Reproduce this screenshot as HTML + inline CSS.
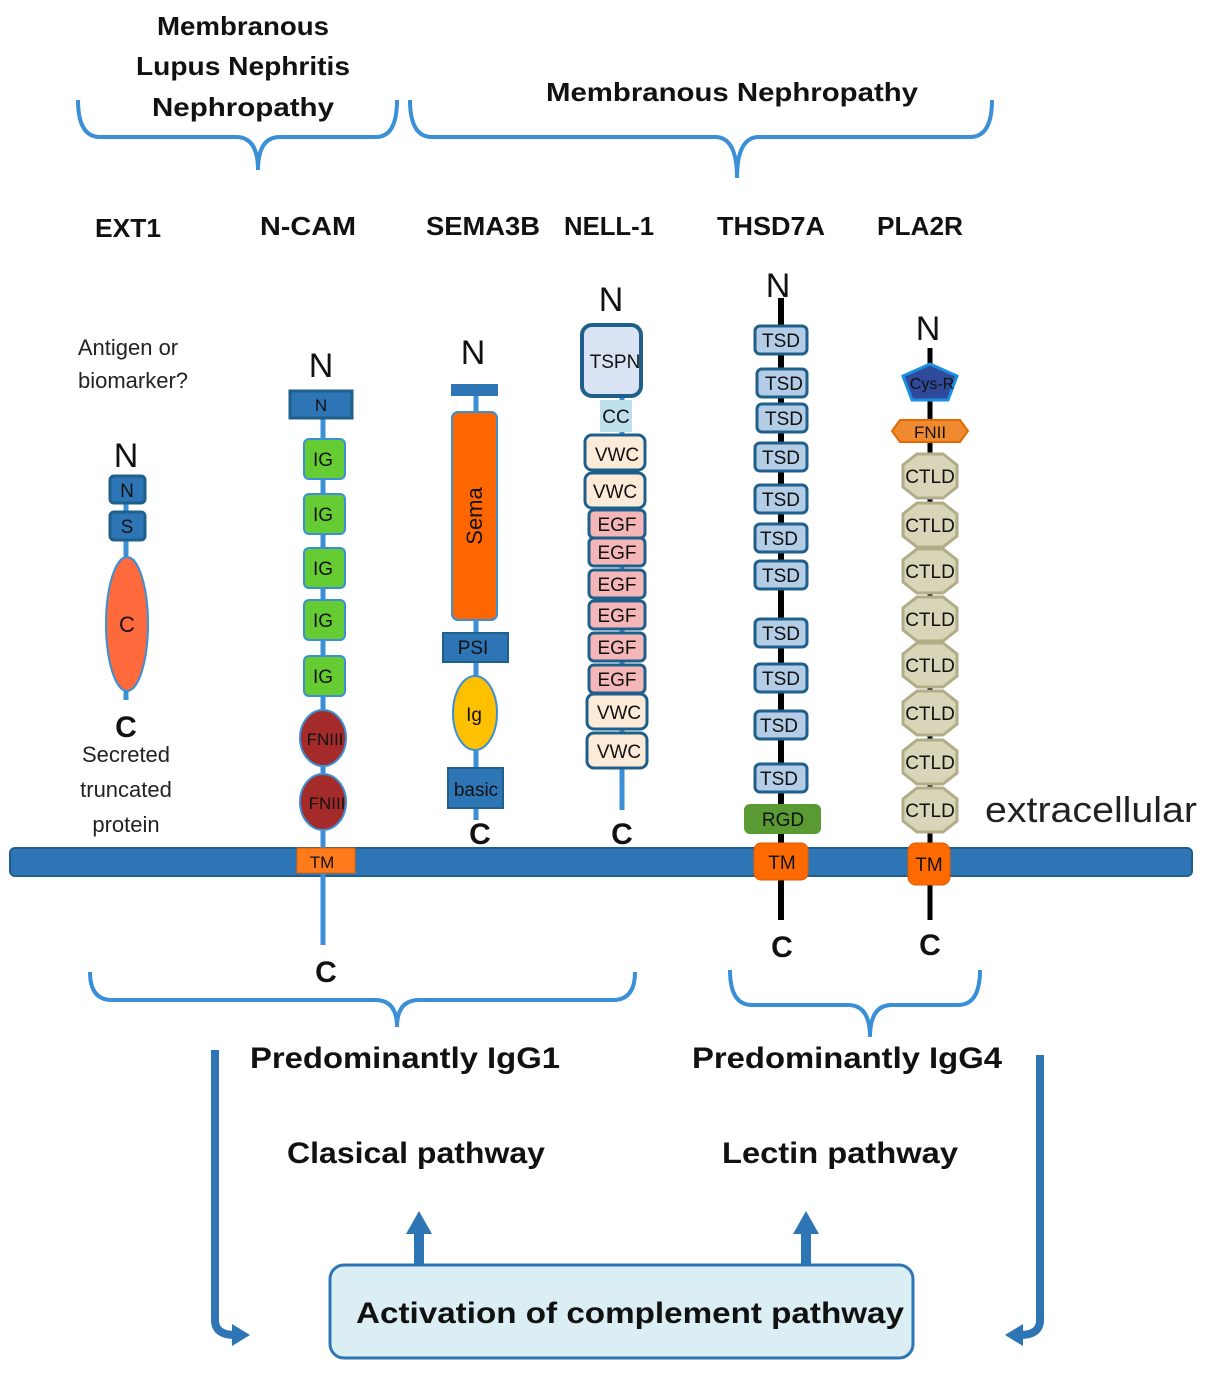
<!DOCTYPE html>
<html><head><meta charset="utf-8"><style>html,body{margin:0;padding:0;background:#fff}svg{display:block}text{font-family:"Liberation Sans",sans-serif}</style></head>
<body>
<svg width="1206" height="1373" viewBox="0 0 1206 1373" xmlns="http://www.w3.org/2000/svg">
<defs>
<marker id="ah" markerWidth="6" markerHeight="6" refX="3" refY="3" orient="auto"><path d="M0,0L6,3L0,6z" fill="#2e75b6"/></marker>
</defs>
<g fill="none" stroke="#3a8fd6" stroke-width="4">
<path d="M78,100 Q78,137 100,137 L236,137 Q258,137 258,170 Q258,137 280,137 L376,137 Q397,137 397,100"/>
<path d="M410,100 Q410,137 432,137 L715,137 Q737,137 737,178 Q737,137 759,137 L970,137 Q992,137 992,100"/>
<path d="M90,972 Q90,1000 112,1000 L375,1000 Q397,1000 397,1027 Q397,1000 419,1000 L613,1000 Q635,1000 635,972"/>
<path d="M730,970 Q730,1005 752,1005 L848,1005 Q870,1005 870,1037 Q870,1005 892,1005 L958,1005 Q980,1005 980,970"/>
</g>
<g font-weight="bold" font-size="26" text-anchor="middle" fill="#111">
<text x="243" y="35" textLength="172" lengthAdjust="spacingAndGlyphs">Membranous</text>
<text x="243" y="75" textLength="214" lengthAdjust="spacingAndGlyphs">Lupus Nephritis</text>
<text x="243" y="116" textLength="182" lengthAdjust="spacingAndGlyphs">Nephropathy</text>
<text x="732" y="101" textLength="372" lengthAdjust="spacingAndGlyphs">Membranous Nephropathy</text>
<text x="128" y="237" textLength="66" lengthAdjust="spacingAndGlyphs">EXT1</text>
<text x="308" y="235" textLength="96" lengthAdjust="spacingAndGlyphs">N-CAM</text>
<text x="483" y="235" textLength="114" lengthAdjust="spacingAndGlyphs">SEMA3B</text>
<text x="609" y="235" textLength="90" lengthAdjust="spacingAndGlyphs">NELL-1</text>
<text x="771" y="235" textLength="108" lengthAdjust="spacingAndGlyphs">THSD7A</text>
<text x="920" y="235" textLength="86" lengthAdjust="spacingAndGlyphs">PLA2R</text>
</g>
<!-- membrane -->
<rect x="10" y="848" width="1182" height="28" rx="5" fill="#2e75b6" stroke="#1f5f8b" stroke-width="2"/>
<text x="985" y="822" font-size="36" fill="#222" textLength="212" lengthAdjust="spacingAndGlyphs">extracellular</text>
<!-- EXT1 -->
<g text-anchor="middle" fill="#222" font-size="22">
<text x="128" y="355">Antigen or</text><text x="133" y="388">biomarker?</text>
<text x="126" y="762">Secreted</text><text x="126" y="797">truncated</text><text x="126" y="832">protein</text>
</g>
<line x1="126" y1="503" x2="126" y2="700" stroke="#3a8fd6" stroke-width="5"/>
<rect x="110" y="476" width="35" height="27" rx="4" fill="#2e75b6" stroke="#1f5f8b" stroke-width="3"/>
<rect x="110" y="512" width="35" height="28" rx="4" fill="#2e75b6" stroke="#1f5f8b" stroke-width="3"/>
<ellipse cx="127" cy="624" rx="21" ry="67" fill="#ff6a3d" stroke="#3a8fd6" stroke-width="2"/>
<!-- N-CAM -->
<line x1="323" y1="390" x2="323" y2="945" stroke="#3a8fd6" stroke-width="5"/>
<rect x="290" y="391" width="62" height="27" fill="#2e75b6" stroke="#1f5f8b" stroke-width="3"/>
<g fill="#66cc33" stroke="#3a8fd6" stroke-width="2">
<rect x="304" y="439" width="41" height="40" rx="5"/><rect x="304" y="494" width="41" height="40" rx="5"/><rect x="304" y="548" width="41" height="40" rx="5"/><rect x="304" y="600" width="41" height="40" rx="5"/><rect x="304" y="656" width="41" height="40" rx="5"/>
</g>
<ellipse cx="323" cy="738" rx="23" ry="28" fill="#a52a2a" stroke="#3a8fd6" stroke-width="2"/>
<ellipse cx="323" cy="802" rx="23" ry="28" fill="#a52a2a" stroke="#3a8fd6" stroke-width="2"/>
<rect x="297" y="848" width="58" height="25" fill="#ff7a1a" stroke="#e06000" stroke-width="1"/>
<!-- SEMA3B -->
<line x1="476" y1="385" x2="476" y2="820" stroke="#3a8fd6" stroke-width="5"/>
<rect x="451" y="384" width="47" height="12" fill="#2e75b6"/>
<rect x="452" y="412" width="45" height="208" rx="6" fill="#ff6600" stroke="#3a8fd6" stroke-width="2"/>
<rect x="443" y="633" width="65" height="29" fill="#2e75b6" stroke="#1f5f8b" stroke-width="2"/>
<ellipse cx="475" cy="713" rx="22" ry="37" fill="#ffc000" stroke="#3a8fd6" stroke-width="2"/>
<rect x="448" y="768" width="55" height="40" fill="#2e75b6" stroke="#1f5f8b" stroke-width="2"/>
<!-- NELL-1 -->
<line x1="622" y1="395" x2="622" y2="810" stroke="#3a8fd6" stroke-width="5"/>
<rect x="582" y="325" width="59" height="71" rx="10" fill="#dae3f3" stroke="#1f5f8b" stroke-width="4"/>
<rect x="600" y="400" width="32" height="32" fill="#bde0ec"/>
<g stroke="#1f5f8b" stroke-width="3">
<rect x="585" y="435" width="60" height="35" rx="7" fill="#fdebd9"/><rect x="585" y="473" width="60" height="35" rx="7" fill="#fdebd9"/>
<g fill="#f4b6b6"><rect x="589" y="510" width="56" height="28" rx="5"/><rect x="589" y="538" width="56" height="28" rx="5"/><rect x="589" y="570" width="56" height="28" rx="5"/><rect x="589" y="601" width="56" height="28" rx="5"/><rect x="589" y="633" width="56" height="28" rx="5"/><rect x="589" y="665" width="56" height="28" rx="5"/></g>
<rect x="587" y="694" width="60" height="35" rx="7" fill="#fdebd9"/><rect x="587" y="733" width="60" height="35" rx="7" fill="#fdebd9"/>
</g>
<!-- THSD7A -->
<line x1="781" y1="298" x2="781" y2="920" stroke="#000" stroke-width="6"/>
<g fill="#b4cde6" stroke="#1f5f8b" stroke-width="3">
<rect x="755" y="326" width="52" height="28" rx="5"/><rect x="757" y="369" width="50" height="28" rx="5"/><rect x="757" y="404" width="50" height="28" rx="5"/><rect x="755" y="443" width="52" height="28" rx="5"/><rect x="755" y="485" width="52" height="28" rx="5"/><rect x="755" y="524" width="52" height="28" rx="5"/><rect x="755" y="561" width="52" height="28" rx="5"/><rect x="755" y="619" width="52" height="28" rx="5"/><rect x="755" y="664" width="52" height="28" rx="5"/><rect x="755" y="711" width="52" height="28" rx="5"/><rect x="755" y="764" width="52" height="28" rx="5"/>
</g>
<rect x="744" y="804" width="77" height="30" rx="6" fill="#5a9a32"/>
<rect x="754" y="843" width="54" height="37" rx="7" fill="#ff6a00" stroke="#e05a00"/>
<!-- PLA2R -->
<line x1="930" y1="348" x2="930" y2="920" stroke="#000" stroke-width="5"/>
<path d="M930,364 L957,376 L948,400 L912,400 L903,376 Z" fill="#2f4a9a" stroke="#1a8fe0" stroke-width="3"/>
<path d="M900,420 L960,420 L968,431 L960,442 L900,442 L892,431 Z" fill="#f08a30" stroke="#e06a00" stroke-width="2"/>
<g fill="#d8d5b8" stroke="#b0ad88" stroke-width="3">
<path d="M917,454 L943,454 L957,465 L957,487 L943,498 L917,498 L903,487 L903,465Z"/>
<path d="M917,503 L943,503 L957,514 L957,536 L943,547 L917,547 L903,536 L903,514Z"/>
<path d="M917,549 L943,549 L957,560 L957,582 L943,593 L917,593 L903,582 L903,560Z"/>
<path d="M917,597 L943,597 L957,608 L957,630 L943,641 L917,641 L903,630 L903,608Z"/>
<path d="M917,643 L943,643 L957,654 L957,676 L943,687 L917,687 L903,676 L903,654Z"/>
<path d="M917,691 L943,691 L957,702 L957,724 L943,735 L917,735 L903,724 L903,702Z"/>
<path d="M917,740 L943,740 L957,751 L957,773 L943,784 L917,784 L903,773 L903,751Z"/>
<path d="M917,788 L943,788 L957,799 L957,821 L943,832 L917,832 L903,821 L903,799Z"/>
</g>
<rect x="908" y="843" width="42" height="42" rx="8" fill="#ff6a00" stroke="#e05a00"/>
<!-- domain labels -->
<g text-anchor="middle" fill="#111" font-size="19">
<text x="127" y="497">N</text><text x="127" y="533">S</text><text x="127" y="632" font-size="22">C</text>
<text x="321" y="411" font-size="17">N</text>
<text x="323" y="466">IG</text><text x="323" y="521">IG</text><text x="323" y="575">IG</text><text x="323" y="627">IG</text><text x="323" y="683">IG</text>
<text x="325" y="745" font-size="17">FNIII</text><text x="327" y="809" font-size="17">FNIII</text>
<text x="322" y="868" font-size="17">TM</text>
<text x="473" y="654">PSI</text><text x="474" y="721">Ig</text><text x="476" y="796">basic</text>
<text x="615" y="368">TSPN</text><text x="616" y="423">CC</text>
<text x="617" y="461">VWC</text><text x="615" y="498">VWC</text>
<text x="617" y="531">EGF</text><text x="617" y="559">EGF</text><text x="617" y="591">EGF</text><text x="617" y="622">EGF</text><text x="617" y="654">EGF</text><text x="617" y="686">EGF</text>
<text x="619" y="719">VWC</text><text x="619" y="758">VWC</text>
<text x="781" y="347">TSD</text><text x="784" y="390">TSD</text><text x="784" y="425">TSD</text><text x="781" y="464">TSD</text><text x="781" y="506">TSD</text><text x="779" y="545">TSD</text><text x="781" y="582">TSD</text><text x="781" y="640">TSD</text><text x="781" y="685">TSD</text><text x="779" y="732">TSD</text><text x="779" y="785">TSD</text>
<text x="783" y="826" fill="#111">RGD</text><text x="782" y="869">TM</text>
<text x="932" y="389" font-size="16">Cys-R</text><text x="930" y="438" font-size="17">FNII</text>
<text x="930" y="483">CTLD</text><text x="930" y="532">CTLD</text><text x="930" y="578">CTLD</text><text x="930" y="626">CTLD</text><text x="930" y="672">CTLD</text><text x="930" y="720">CTLD</text><text x="930" y="769">CTLD</text><text x="930" y="817">CTLD</text>
<text x="929" y="871">TM</text>
</g>
<text x="0" y="0" transform="translate(482,516) rotate(-90)" text-anchor="middle" font-size="22" fill="#111">Sema</text>
<!-- N / C labels -->
<g text-anchor="middle" font-size="34" fill="#111">
<text x="126" y="467">N</text><text x="321" y="377">N</text><text x="473" y="364">N</text><text x="611" y="311">N</text><text x="778" y="297">N</text><text x="928" y="340">N</text>
</g>
<g text-anchor="middle" font-size="30" font-weight="bold" fill="#111">
<text x="126" y="737">C</text><text x="326" y="982">C</text><text x="480" y="844">C</text><text x="622" y="844">C</text><text x="782" y="957">C</text><text x="930" y="955">C</text>
</g>
<!-- bottom -->
<g font-weight="bold" font-size="30" text-anchor="middle" fill="#111">
<text x="405" y="1068" textLength="310" lengthAdjust="spacingAndGlyphs">Predominantly IgG1</text>
<text x="847" y="1068" textLength="310" lengthAdjust="spacingAndGlyphs">Predominantly IgG4</text>
<text x="416" y="1163" textLength="258" lengthAdjust="spacingAndGlyphs">Clasical pathway</text>
<text x="840" y="1163" textLength="236" lengthAdjust="spacingAndGlyphs">Lectin pathway</text>
</g>
<g fill="none" stroke="#2e75b6" stroke-width="8">
<path d="M215,1050 L215,1320 Q215,1335 235,1335"/>
<path d="M1040,1055 L1040,1320 Q1040,1335 1020,1335"/>
</g>
<path d="M232,1324 L250,1335 L232,1346Z" fill="#2e75b6"/>
<path d="M1023,1324 L1005,1335 L1023,1346Z" fill="#2e75b6"/>
<rect x="414" y="1232" width="10" height="35" fill="#2e75b6"/>
<path d="M406,1234 L419,1211 L432,1234Z" fill="#2e75b6"/>
<rect x="801" y="1232" width="10" height="35" fill="#2e75b6"/>
<path d="M793,1234 L806,1211 L819,1234Z" fill="#2e75b6"/>
<rect x="330" y="1265" width="583" height="93" rx="14" fill="#daeef3" stroke="#2e75b6" stroke-width="3"/>
<text x="630" y="1323" font-weight="bold" font-size="30" text-anchor="middle" fill="#111" textLength="548" lengthAdjust="spacingAndGlyphs">Activation of complement pathway</text>
</svg>
</body></html>
